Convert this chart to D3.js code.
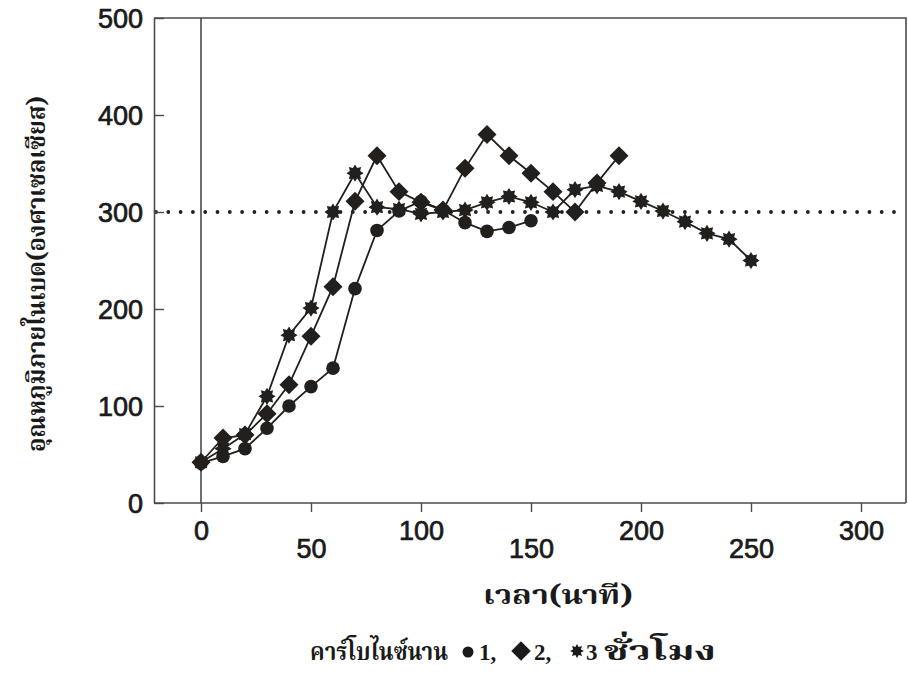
<!DOCTYPE html>
<html>
<head>
<meta charset="utf-8">
<script src="https://cdn.jsdelivr.net/npm/d3@7"></script>
<style>
  html, body { margin: 0; padding: 0; background: #ffffff; }
  svg { display: block; }
</style>
</head>
<body>
<svg id="chart" width="908" height="680"></svg>
<script>
// ---------------- DATA ----------------
const time1 = [0, 10, 20, 30, 40, 50, 60, 70, 80, 90, 100, 110, 120, 130, 140, 150];
const temp1 = [41, 48, 56, 77, 100, 120, 139, 221, 281, 301, 311, 302, 289, 280, 284, 291];

const time2 = [0, 10, 20, 30, 40, 50, 60, 70, 80, 90, 100, 110, 120, 130, 140, 150, 160, 170, 180, 190];
const temp2 = [42, 67, 70, 92, 122, 172, 223, 311, 358, 321, 310, 302, 345, 380, 358, 340, 321, 300, 330, 358];

const time3 = [0, 10, 20, 30, 40, 50, 60, 70, 80, 90, 100, 110, 120, 130, 140, 150, 160, 170, 180, 190, 200, 210, 220, 230, 240, 250];
const temp3 = [42, 56, 71, 110, 173, 201, 300, 340, 305, 303, 298, 300, 302, 310, 316, 310, 300, 323, 327, 321, 311, 301, 290, 278, 272, 250];

const xTicks = [0, 50, 100, 150, 200, 250, 300];
const yTicks = [0, 100, 200, 300, 400, 500];
const refTemp = 300;

const yTitle = "อุณหภูมิภายในเบด(องศาเซลเซียส)";
const xTitle = "เวลา(นาที)";
const legendLead = "คาร์โบไนซ์นาน";
const legendLabels = ["1,", "2,", "3"];
const legendTail = "ชั่วโมง";

// ---------------- LAYOUT ----------------
const frameLeft = 154, frameRight = 906, frameTop = 18, frameBottom = 503;
const ink = "#221f1c";
const frameInk = "#4a4a4a";
const thaiFont = "'Noto Serif Thai','Noto Sans Thai','Loma','Garuda','Norasi','Tlwg Typo',serif";
const numFont = "'Liberation Sans', Arial, sans-serif";

const svg = d3.select("#chart");

const x = d3.scaleLinear().domain([0, 300]).range([201, 861]);
const y = d3.scaleLinear().domain([0, 500]).range([frameBottom, frameTop]);

// frame (top and right)
svg.append("path")
  .attr("d", `M${frameLeft},${frameTop}H${frameRight}V${frameBottom}`)
  .attr("fill", "none").attr("stroke", frameInk).attr("stroke-width", 1.6);

// x = 0 vertical line
svg.append("line")
  .attr("x1", x(0)).attr("x2", x(0)).attr("y1", y(500)).attr("y2", y(0))
  .attr("stroke", frameInk).attr("stroke-width", 1.6);

// reference dotted line at 300
svg.append("line")
  .attr("x1", frameLeft + 2).attr("x2", frameRight - 2)
  .attr("y1", y(refTemp)).attr("y2", y(refTemp))
  .attr("stroke", ink).attr("stroke-width", 3.8)
  .attr("stroke-linecap", "round").attr("stroke-dasharray", "0 12.3");

// y axis
const yAxis = svg.append("g")
  .attr("transform", `translate(${frameLeft},0)`)
  .call(d3.axisLeft(y).tickValues(yTicks).tickSizeInner(-10).tickSizeOuter(0).tickPadding(11));
yAxis.select(".domain").attr("stroke", frameInk).attr("stroke-width", 1.6);
yAxis.selectAll(".tick line").attr("stroke", frameInk).attr("stroke-width", 1.4);
yAxis.selectAll(".tick text")
  .attr("font-family", numFont).attr("font-size", 27).attr("font-weight", "normal")
  .attr("fill", "#1a1a1a").attr("stroke", "#1a1a1a").attr("stroke-width", 0.7)
  .attr("dy", "0.36em");

// x axis
const xAxis = svg.append("g")
  .attr("transform", `translate(0,${frameBottom})`)
  .call(d3.axisBottom(x).tickValues(xTicks).tickSizeInner(9).tickSizeOuter(0));
xAxis.select(".domain").attr("d", `M${frameLeft},0H${frameRight}`)
  .attr("stroke", frameInk).attr("stroke-width", 1.6);
xAxis.selectAll(".tick line").attr("stroke", frameInk).attr("stroke-width", 1.4);
xAxis.selectAll(".tick text")
  .attr("font-family", numFont).attr("font-size", 27)
  .attr("fill", "#1a1a1a").attr("stroke", "#1a1a1a").attr("stroke-width", 0.7)
  .attr("dy", null)
  .attr("y", (d, i) => (i % 2 === 0 ? 37 : 55));

// ---------------- SERIES ----------------
const line = d3.line().x(d => x(d[0])).y(d => y(d[1]));
const s1 = time1.map((t, i) => [t, temp1[i]]);
const s2 = time2.map((t, i) => [t, temp2[i]]);
const s3 = time3.map((t, i) => [t, temp3[i]]);

function starPath(rOut, rIn, n) {
  const pts = [];
  for (let k = 0; k < 2 * n; k++) {
    const a = Math.PI * k / n - Math.PI / 2;
    const r = k % 2 === 0 ? rOut : rIn;
    pts.push([r * Math.cos(a), r * Math.sin(a)]);
  }
  return "M" + pts.map(p => p[0].toFixed(2) + "," + p[1].toFixed(2)).join("L") + "Z";
}
const starD = starPath(8.6, 5.6, 8);
const diamondD = d3.symbol().type(d3.symbolSquare).size(180)();

[s3, s2, s1].forEach(s => {
  svg.append("path").datum(s).attr("d", line)
    .attr("fill", "none").attr("stroke", ink).attr("stroke-width", 1.8);
});

svg.append("g").selectAll("path").data(s3).join("path")
  .attr("d", starD)
  .attr("transform", d => `translate(${x(d[0])},${y(d[1])})`)
  .attr("fill", ink);

svg.append("g").selectAll("path").data(s2).join("path")
  .attr("d", diamondD)
  .attr("transform", d => `translate(${x(d[0])},${y(d[1])}) rotate(45)`)
  .attr("fill", ink);

svg.append("g").selectAll("circle").data(s1).join("circle")
  .attr("cx", d => x(d[0])).attr("cy", d => y(d[1])).attr("r", 6.8)
  .attr("fill", ink);

// ---------------- TITLES ----------------
svg.append("text")
  .attr("transform", "translate(45,274) rotate(-90)")
  .attr("text-anchor", "middle")
  .attr("font-family", thaiFont).attr("font-size", 25).attr("font-weight", "bold")
  .attr("fill", "#1a1a1a")
  .attr("textLength", 356).attr("lengthAdjust", "spacingAndGlyphs")
  .text(yTitle);

svg.append("text")
  .attr("x", 558).attr("y", 604)
  .attr("text-anchor", "middle")
  .attr("font-family", thaiFont).attr("font-size", 27).attr("font-weight", "bold")
  .attr("fill", "#1a1a1a")
  .attr("textLength", 150).attr("lengthAdjust", "spacingAndGlyphs")
  .text(xTitle);

// ---------------- LEGEND ----------------
const lg = svg.append("g").attr("fill", "#1a1a1a");
const base = 660;
lg.append("text").attr("x", 310).attr("y", base)
  .attr("font-family", thaiFont).attr("font-size", 24).attr("font-weight", "bold")
  .attr("textLength", 138).attr("lengthAdjust", "spacingAndGlyphs")
  .text(legendLead);
lg.append("circle").attr("cx", 468).attr("cy", 652).attr("r", 5.5);
lg.append("path").attr("d", d3.symbol().type(d3.symbolSquare).size(190)())
  .attr("transform", "translate(521,651) rotate(45)");
lg.append("path").attr("d", starPath(7, 4.2, 8)).attr("transform", "translate(577,651)");
const labX = [479, 534, 586];
legendLabels.forEach((t, i) => {
  lg.append("text").attr("x", labX[i]).attr("y", base)
    .attr("font-family", "'Liberation Serif','DejaVu Serif',serif").attr("font-size", 23).attr("font-weight", "bold")
    .text(t);
});
lg.append("text").attr("x", 604).attr("y", base)
  .attr("font-family", thaiFont).attr("font-size", 27).attr("font-weight", "bold")
  .attr("textLength", 112).attr("lengthAdjust", "spacingAndGlyphs")
  .text(legendTail);
</script>
</body>
</html>
